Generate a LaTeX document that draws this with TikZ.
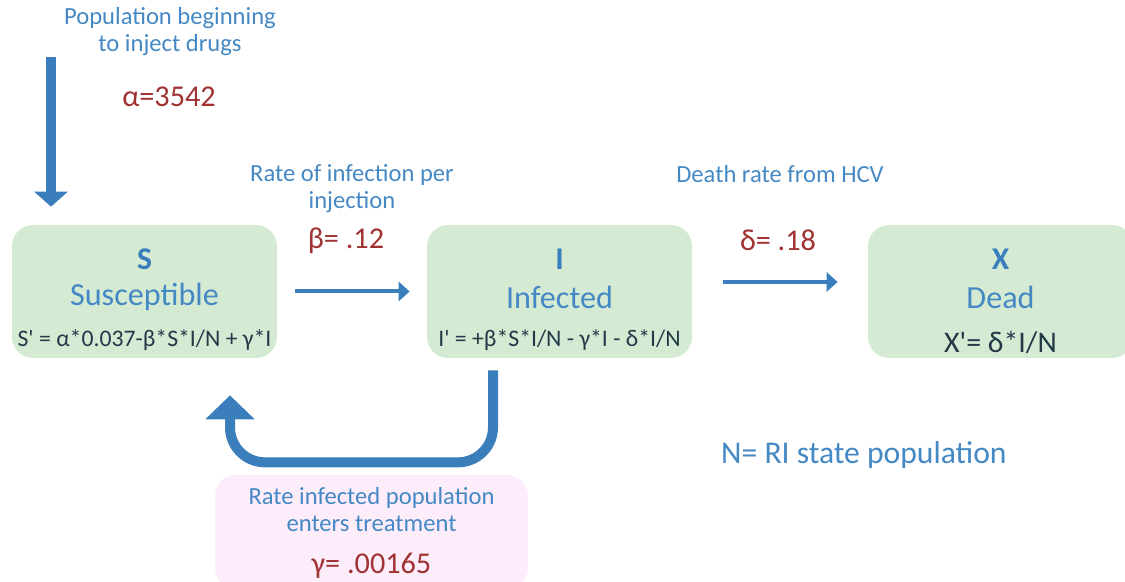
\documentclass[tikz,border=0pt]{standalone}
\usepackage{fontspec}
\setmainfont{Carlito}
\usetikzlibrary{arrows.meta,positioning,calc}
\definecolor{labblue}{RGB}{68,136,196}
\definecolor{flowblue}{RGB}{58,127,187}
\definecolor{valred}{RGB}{160,50,50}
\definecolor{eqink}{RGB}{34,58,72}
\definecolor{boxgreen}{RGB}{213,234,211}
\definecolor{boxpink}{RGB}{253,237,251}

\begin{document}
\begin{tikzpicture}[
  state/.style ={fill=boxgreen, draw=none, rounded corners=12pt, minimum width=5.3cm, minimum height=2.66cm},
  treat/.style ={fill=boxpink, draw=none, rounded corners=12pt, minimum width=6.26cm, minimum height=2.28cm},
  letter/.style={font=\fontsize{18}{20}\selectfont\bfseries, text=flowblue},
  sname/.style ={font=\fontsize{18.3}{21}\selectfont, text=labblue},
  eqn/.style   ={font=\fontsize{13.5}{16}\selectfont, text=eqink},
  note/.style  ={font=\fontsize{14}{15.4}\selectfont, text=labblue, align=center},
  val/.style   ={font=\fontsize{17.2}{20}\selectfont, text=valred},
  inflow/.style={draw=flowblue, line width=0.2cm, -{Triangle[length=0.3cm, width=0.66cm]}},
  flow/.style  ={draw=flowblue, line width=0.08cm, -{Triangle[length=0.22cm, width=0.38cm]}},
  back/.style  ={draw=flowblue, line width=0.2cm, rounded corners=0.7cm, -{Triangle[length=0.48cm, width=0.96cm]}},
]
\useasboundingbox (0,0) rectangle (22.5,11.64);
\clip (0,0) rectangle (22.5,11.64);

% ---------------------------------------------- the three compartments
\node[state] (S) at (2.89,5.81) {};
\node[state] (I) at (11.19,5.81) {};
\node[state] (X) at (20.01,5.81) {};

\node[letter] (S-l) at ([yshift=0.65cm]S.center) {S};
\node[sname]  (S-n) at ([yshift=-0.11cm]S.center) {Susceptible};
\node[eqn]    (S-e) at ([yshift=-0.97cm]S.center) {S\textquotesingle{} = α*0.037-β*S*I/N + γ*I};

\node[letter] (I-l) at ([yshift=0.65cm]I.center) {I};
\node[sname]  (I-n) at ([yshift=-0.11cm]I.center) {Infected};
\node[eqn]    (I-e) at ([yshift=-0.97cm]I.center) {I\textquotesingle{} = +β*S*I/N - γ*I - δ*I/N};

\node[letter] (X-l) at ([yshift=0.65cm]X.center) {X};
\node[sname]  (X-n) at ([yshift=-0.11cm]X.center) {Dead};
\node[eqn, font=\fontsize{17}{20}\selectfont] (X-e) at ([yshift=-1.03cm]X.center) {X\textquotesingle= δ*I/N};

% ---------------------------------------------- treatment box
\node[treat] (T) at (7.43,1.0) {};
\node[note] (T-n) at (7.43,1.45) {Rate infected population\\enters treatment};
\node[val]  (T-v) at (7.43,0.32) {γ= .00165};

% ---------------------------------------------- rates
\node[note] (src-n) at (3.4,11.01) {Population beginning\\to inject drugs};
\node[val]  (src-v) at (3.38,9.7) {α=3542};
\node[note] (inf-n) at (7.04,7.87) {Rate of infection per\\injection};
\node[val]  (inf-v) at (6.92,6.82) {β= .12};
\node[note] (die-n) at (15.6,8.16) {Death rate from HCV};
\node[val]  (die-v) at (15.56,6.84) {δ= .18};

\node[note, font=\fontsize{18}{21}\selectfont, anchor=west] (pop) at (14.3,2.54) {N= RI state population};

% ---------------------------------------------- flows
\coordinate (src) at (1.02,10.5);
\draw[inflow, shorten >=0.36cm] (src) -- (src |- S.north);
\draw[flow, shorten <=0.36cm, shorten >=0.34cm] (S.east) -- (I.west);
\draw[flow, shorten <=0.62cm, shorten >=0.6cm] ([yshift=0.19cm]I.east) -- ([yshift=0.19cm]X.west);
\draw[back, shorten <=0.24cm, shorten >=0.74cm]
  ([xshift=-1.33cm]I.south) -- ++(0,-2.08) -| ([xshift=1.71cm]S.south);

\end{tikzpicture}
\end{document}
